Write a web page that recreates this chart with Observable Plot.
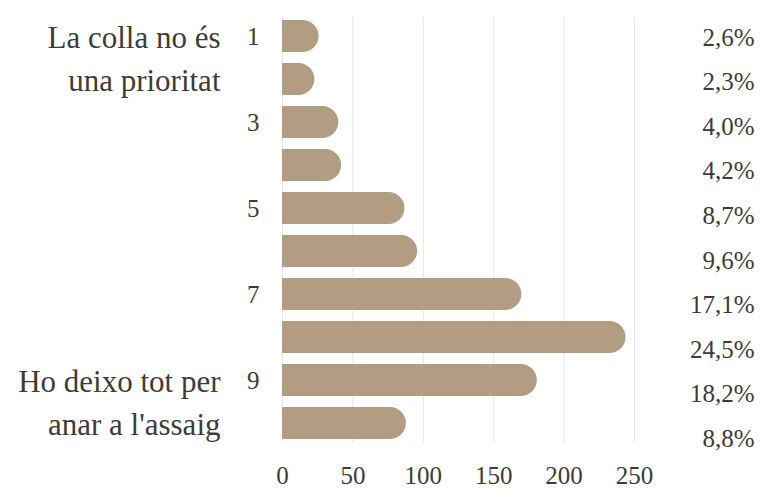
<!DOCTYPE html>
<html>
<head>
<meta charset="utf-8">
<script src="https://cdn.jsdelivr.net/npm/d3@7"></script>
<script src="https://cdn.jsdelivr.net/npm/@observablehq/plot@0.6"></script>
<style>
  html, body { margin: 0; padding: 0; background: #fff; }
</style>
</head>
<body>
<div id="chart"></div>
<script>
const rows = [1, 2, 3, 4, 5, 6, 7, 8, 9, 10];
const counts = [26, 23, 40, 42, 87, 96, 170, 244, 181, 88];
const pcts = ["2,6%", "2,3%", "4,0%", "4,2%", "8,7%", "9,6%", "17,1%", "24,5%", "18,2%", "8,8%"];
const yTicks = [1, 3, 5, 7, 9];
const xTicks = [0, 50, 100, 150, 200, 250];
const sideRows = [1, 2, 9, 10];
const sideTexts = ["La colla no és", "una prioritat", "Ho deixo tot per", "anar a l'assaig"];

const data = rows.map((r, i) => ({row: r, count: counts[i], pct: pcts[i]}));
const side = sideRows.map((r, i) => ({row: r, text: sideTexts[i]}));

const barColor = "#b29d83";
const textColor = "#403b36";

const pctMarks = data.map((d, i) =>
  Plot.text([d], {
    y: "row", text: "pct", frameAnchor: "right", textAnchor: "end",
    dx: 120, dy: 1 + i * 1.6, fontSize: 25, fill: textColor
  })
);

const chart = Plot.plot({
  width: 763,
  height: 491,
  marginTop: 17,
  marginBottom: 49,
  marginLeft: 282,
  marginRight: 129,
  style: {fontFamily: "'Liberation Serif', serif", color: textColor, background: "#fff"},
  x: {domain: [0, 250]},
  y: {domain: rows, paddingInner: 0.25, paddingOuter: 0},
  marks: [
    Plot.ruleX(xTicks, {stroke: "#e4e4e4", strokeWidth: 1}),
    Plot.barX(data, {y: "row", x1: 0, x2: "count", fill: barColor, rx: 16}),
    Plot.barX(data, {y: "row", x1: 0, x2: d => d.count / 2, fill: barColor}),
    Plot.axisY({ticks: yTicks, tickSize: 0, tickPadding: 23, fontSize: 25, fill: textColor, label: null}),
    Plot.axisX({ticks: xTicks, tickSize: 0, tickPadding: 24, fontSize: 25, fill: textColor, label: null}),
    Plot.text(side, {y: "row", text: "text", frameAnchor: "left", textAnchor: "end", dx: -62, dy: 2, fontSize: 31, fill: textColor}),
    ...pctMarks
  ]
});
document.getElementById("chart").appendChild(chart);
</script>
</body>
</html>
